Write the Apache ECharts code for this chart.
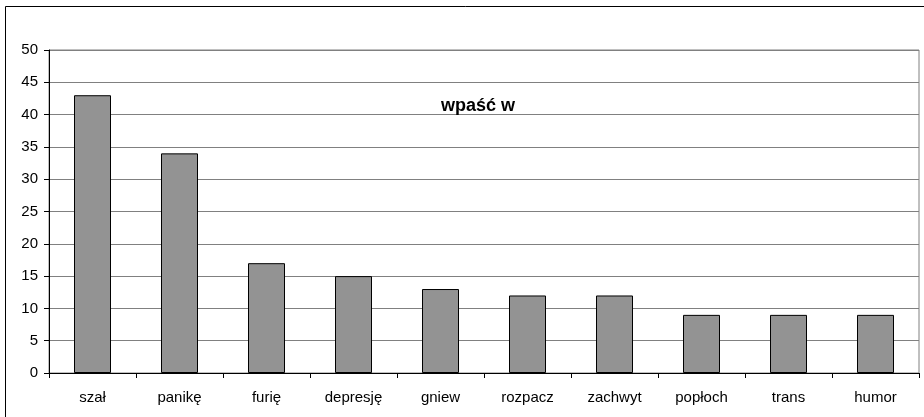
<!DOCTYPE html>
<html>
<head>
<meta charset="utf-8">
<script src="https://cdn.jsdelivr.net/npm/echarts@6/dist/echarts.min.js"></script>
<style>html,body{margin:0;padding:0;background:#fff}#c{width:924px;height:417px}</style>
</head>
<body>
<div id="c"></div>
<script>
const categories = ['szał','panikę','furię','depresję','gniew','rozpacz','zachwyt','popłoch','trans','humor'];
const values = [43,34,17,15,13,12,12,9,9,9];
const titleText = 'wpaść w';
const yMin = 0, yMax = 50, yInterval = 5;

const chart = echarts.init(document.getElementById('c'), null, {renderer:'canvas'});
chart.setOption({
  animation:false,
  backgroundColor:'#fff',
  textStyle:{fontFamily:'Liberation Sans, Arial, sans-serif'},
  grid:{left:49,right:5,top:50,bottom:44,show:true,borderColor:'#808080',borderWidth:1,containLabel:false},
  graphic:[
    {type:'rect',shape:{x:5.5,y:6.5,width:940,height:440},style:{fill:'none',stroke:'#000',lineWidth:1},silent:true,z:-1},
    {type:'text',x:478,y:106,style:{text:titleText,font:'bold 18px "Liberation Sans", Arial, sans-serif',fill:'#000',align:'center',verticalAlign:'middle'},z:10}
  ],
  xAxis:{
    type:'category',data:categories,
    axisLine:{lineStyle:{color:'#000',width:1}},
    axisTick:{show:true,length:5,alignWithLabel:false,lineStyle:{color:'#000'}},
    axisLabel:{color:'#000',fontSize:15,margin:17,fontFamily:'Liberation Sans, Arial, sans-serif'},
    splitLine:{show:false}
  },
  yAxis:{
    type:'value',min:yMin,max:yMax,interval:yInterval,
    axisLine:{show:true,lineStyle:{color:'#000',width:1}},
    axisTick:{show:true,length:5,lineStyle:{color:'#000'}},
    axisLabel:{color:'#000',fontSize:15,margin:11,fontFamily:'Liberation Sans, Arial, sans-serif'},
    splitLine:{show:true,lineStyle:{color:'#808080',width:1}}
  },
  series:[{
    type:'bar',data:values,barWidth:37,
    itemStyle:{color:'#939393',borderColor:'#000',borderWidth:1}
  }]
});
</script>
</body>
</html>
